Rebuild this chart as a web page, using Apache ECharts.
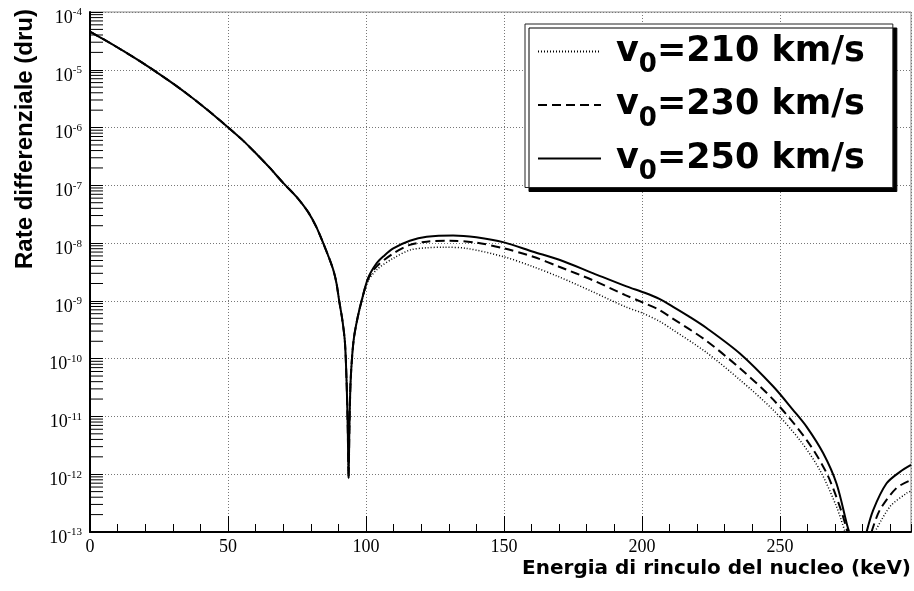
<!DOCTYPE html>
<html>
<head>
<meta charset="utf-8">
<script src="https://cdn.jsdelivr.net/npm/echarts@6/dist/echarts.min.js"></script>
<style>
  html, body { margin: 0; padding: 0; background: #fff; }
  #chart { width: 914px; height: 591px; }
</style>
</head>
<body>
<div id="chart"></div>
<script>
// Differential rate (dru) vs nuclear recoil energy (keV), three halo velocities.
// Below ~97 keV the three curves coincide.
const energyShared = [0, 5, 10, 15, 20, 25, 30, 35, 40, 45, 50, 55, 60, 65, 70, 75, 79, 82, 84.5, 86.5,
  88.2, 89.3, 90.3, 91.5, 92.4, 93.0, 93.4, 93.7, 94.0, 94.4, 95.0, 95.7, 97];
const rateShared = [4.57e-5, 3.35e-5, 2.43e-5, 1.74e-5, 1.23e-5, 8.51e-6, 5.82e-6, 3.89e-6, 2.54e-6, 1.62e-6,
  1.01e-6, 6.24e-7, 3.63e-7, 2.04e-7, 1.10e-7, 6.17e-8, 3.47e-8, 1.91e-8, 1.0e-8, 5.75e-9,
  3.39e-9, 2.04e-9, 1.0e-9, 4.47e-10, 1.86e-10, 3.7e-11, 6.3e-12, 8.5e-13, 6.3e-12, 3.7e-11, 1.12e-10,
  2.4e-10, 5.2e-10];

// v0 = 210 km/s
const energy210 = [98.4, 100.8, 104, 110, 116, 122, 128, 136.5, 150, 160.6, 170, 182, 194, 200, 206.5, 211,
  223, 235.5, 247.6, 257.2, 264.5, 270.5, 273.6, 279, 284.4, 289.9, 295.9, 297.5];
const rate210 = [9.5e-10, 2.2e-9, 3.5e-9, 5.5e-9, 7.6e-9, 8.3e-9, 8.5e-9, 8.1e-9, 5.8e-9, 3.9e-9, 2.6e-9,
  1.45e-9, 7.9e-10, 6.2e-10, 4.4e-10, 3.2e-10, 1.32e-10, 4.3e-11, 1.29e-11, 3.9e-12, 1.17e-12, 2.75e-13,
  1.0e-13, null, 1.0e-13, 2.75e-13, 4.7e-13, 5.1e-13];

// v0 = 230 km/s
const energy230 = [98.4, 100.8, 104, 109.9, 115.9, 122, 130.4, 140, 150, 160.6, 170, 182, 194, 200, 206, 211,
  223, 235.5, 247.6, 259.7, 266.9, 271.7, 274.5, 279, 283.2, 286.2, 292.3, 297.5];
const rate230 = [1.0e-9, 2.4e-9, 4.0e-9, 6.6e-9, 9.3e-9, 1.06e-8, 1.10e-8, 1.02e-8, 8.1e-9, 5.8e-9, 3.9e-9,
  2.3e-9, 1.26e-9, 9.5e-10, 7.1e-10, 5.0e-10, 2.1e-10, 6.8e-11, 1.95e-11, 3.9e-12, 1.05e-12, 2.75e-13,
  1.0e-13, null, 1.0e-13, 2.4e-13, 5.8e-13, 7.9e-13];

// v0 = 250 km/s
const energy250 = [98.4, 100.8, 103.9, 106.5, 109.9, 115.9, 122, 131.6, 140, 150, 160.6, 170.3, 182.4, 194.4,
  201, 206.5, 211.3, 217, 223.4, 235.5, 247.6, 254.8, 259.7, 265.7, 270.5, 274.2, 275.1, 278, 281.4, 283.8,
  288.6, 293.5, 297.5];
const rate250 = [1.0e-9, 2.5e-9, 4.5e-9, 6.0e-9, 8.1e-9, 1.10e-8, 1.29e-8, 1.36e-8, 1.26e-8, 1.03e-8, 7.1e-9,
  5.1e-9, 3.0e-9, 1.78e-9, 1.38e-9, 1.07e-9, 7.9e-10, 5.4e-10, 3.4e-10, 1.23e-10, 3.3e-11, 1.29e-11, 6.6e-12,
  2.3e-12, 6.9e-13, 1.41e-13, 1.0e-13, null, 1.0e-13, 2.4e-13, 6.9e-13, 1.10e-12, 1.45e-12];

const seriesNames = ['v0=210 km/s', 'v0=230 km/s', 'v0=250 km/s'];

const X_MIN = 0, X_MAX = 297.5;
const Y_MIN = 1e-13, Y_MAX = 1e-4;

function pairs(es, rs) {
  return es.map((e, i) => [e, rs[i] === null ? '-' : rs[i]]);
}
function curve(es, rs) {
  return pairs(energyShared, rateShared).concat(pairs(es, rs));
}

// Minor log ticks (2..9 within every decade) on the left axis
const minorTicks = [];
for (let p = -13; p < -4; p++) {
  for (let k = 2; k <= 9; k++) minorTicks.push([X_MIN, k * Math.pow(10, p)]);
}

const serifFont = 'Liberation Serif';
const legendFont = 'DejaVu Sans';
const chart = echarts.init(document.getElementById('chart'), null, { renderer: 'canvas' });

const lineCommon = {
  type: 'line', symbol: 'none', showSymbol: false, connectNulls: false,
  smooth: 0.3,
  itemStyle: { color: 'rgba(0,0,0,0)', borderWidth: 0 }
};

chart.setOption({
  animation: false,
  backgroundColor: '#fff',
  grid: {
    left: 90, right: 3, top: 12, bottom: 59,
    show: true, borderColor: '#8a8a8a', borderWidth: 1, backgroundColor: 'transparent',
    containLabel: false, outerBoundsMode: 'none'
  },
  xAxis: [
    {
      type: 'value', min: X_MIN, max: X_MAX, interval: 50,
      axisLine: { show: true, onZero: false, lineStyle: { color: '#000', width: 2 } },
      axisTick: { show: true, inside: true, length: 16, lineStyle: { color: '#000', width: 1 } },
      axisLabel: { color: '#000', fontFamily: serifFont, fontSize: 18, margin: 6,
                   showMaxLabel: false },
      splitLine: { show: true, lineStyle: { color: '#777', width: 1, type: [1, 2] } }
    },
    {
      type: 'value', min: X_MIN, max: X_MAX, interval: 10, position: 'bottom',
      axisLine: { show: false },
      axisTick: { show: true, inside: true, length: 8, lineStyle: { color: '#000', width: 1 } },
      axisLabel: { show: false },
      splitLine: { show: false }
    }
  ],
  yAxis: {
    type: 'log', logBase: 10, min: Y_MIN, max: Y_MAX, splitNumber: 9,
    axisLine: { show: true, onZero: false, lineStyle: { color: '#000', width: 2 } },
    axisTick: { show: true, inside: true, length: 13, lineStyle: { color: '#000', width: 1 } },
    axisLabel: {
      margin: 8,
      padding: [10, 0, 0, 0],
      formatter: v => '{b|10}{s|' + Math.round(Math.log10(v)) + '}',
      rich: {
        b: { fontFamily: serifFont, fontSize: 18, color: '#000', lineHeight: 20, verticalAlign: 'bottom' },
        s: { fontFamily: serifFont, fontSize: 11, color: '#000', lineHeight: 12, verticalAlign: 'top' }
      }
    },
    splitLine: { show: true, lineStyle: { color: '#777', width: 1, type: [1, 2] } }
  },
  legend: {
    data: seriesNames,
    orient: 'vertical',
    left: 525, top: 24,
    padding: [10, 28, 2, 12],
    itemGap: 9, itemWidth: 63, itemHeight: 14,
    backgroundColor: '#fff', borderColor: '#222', borderWidth: 1,
    shadowColor: '#000', shadowBlur: 0, shadowOffsetX: 4, shadowOffsetY: 4,
    selectedMode: false,
    itemStyle: { color: 'rgba(0,0,0,0)', borderWidth: 0 },
    formatter: name => '{a|v}{s|0}{v|' + name.slice(2) + '}',
    textStyle: {
      rich: {
        a: { fontFamily: legendFont, fontWeight: 'bold', fontSize: 35, color: '#000',
             lineHeight: 54, padding: [0, 0, 0, 10], verticalAlign: 'middle' },
        v: { fontFamily: legendFont, fontWeight: 'bold', fontSize: 35, color: '#000',
             lineHeight: 54, verticalAlign: 'middle' },
        s: { fontFamily: legendFont, fontWeight: 'bold', fontSize: 26, color: '#000',
             lineHeight: 26, verticalAlign: 'bottom' }
      }
    }
  },
  graphic: [
    {
      type: 'text', x: 911, y: 569,
      style: { text: 'Energia di rinculo del nucleo (keV)', font: 'bold 20px "DejaVu Sans"',
               fill: '#000', align: 'right', verticalAlign: 'middle' }
    },
    {
      type: 'text', x: 25, y: 139, rotation: Math.PI / 2,
      style: { text: 'Rate differenziale (dru)', font: 'bold 24px "Liberation Sans"',
               fill: '#000', align: 'center', verticalAlign: 'middle' }
    }
  ],
  series: [
    Object.assign({}, lineCommon, {
      name: seriesNames[0], data: curve(energy210, rate210), z: 3,
      lineStyle: { color: '#000', width: 1.5, type: [1, 2] }
    }),
    Object.assign({}, lineCommon, {
      name: seriesNames[1], data: curve(energy230, rate230), z: 4,
      lineStyle: { color: '#000', width: 2, type: [9, 5] }
    }),
    Object.assign({}, lineCommon, {
      name: seriesNames[2], data: curve(energy250, rate250), z: 5,
      lineStyle: { color: '#000', width: 2, type: 'solid' }
    }),
    {
      name: 'minorTicks', type: 'custom', silent: true, clip: false, z: 6,
      data: minorTicks,
      renderItem: (params, api) => {
        const p = api.coord([api.value(0), api.value(1)]);
        return {
          type: 'line',
          shape: { x1: p[0], y1: p[1], x2: p[0] + 13, y2: p[1] },
          style: { stroke: '#000', lineWidth: 1 }
        };
      }
    }
  ]
});
</script>
</body>
</html>
